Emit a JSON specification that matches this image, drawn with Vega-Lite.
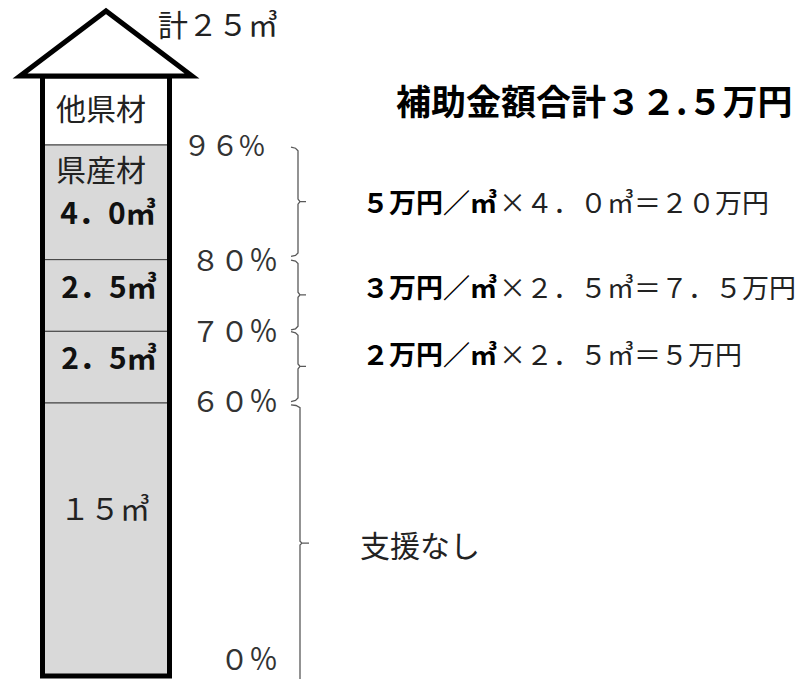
{
  "$schema": "https://vega.github.io/schema/vega-lite/v6.json",
  "width": 805,
  "height": 679,
  "padding": 0,
  "autosize": {"type": "none"},
  "background": "white",
  "config": {"view": {"stroke": null}, "text": {"font": "Noto Sans CJK JP"}},
  "datasets": {
    "seg": [
      {"kind": "他県材", "lo": 96, "hi": 100},
      {"kind": "県産材", "lo": 80, "hi": 96},
      {"kind": "県産材", "lo": 70, "hi": 80},
      {"kind": "県産材", "lo": 60, "hi": 70},
      {"kind": "県産材", "lo": 0, "hi": 60}
    ],
    "arrow": [
      {"x": 20, "p": 100},
      {"x": 106, "p": 110},
      {"x": 192, "p": 100}
    ],
    "brace": [
      {"b": 1, "i": 0, "x": 291, "p": 95.7},
      {"b": 1, "i": 1, "x": 295.5, "p": 95.55},
      {"b": 1, "i": 2, "x": 298, "p": 95.2},
      {"b": 1, "i": 3, "x": 298, "p": 88.45},
      {"b": 1, "i": 4, "x": 300, "p": 88.1},
      {"b": 1, "i": 5, "x": 306, "p": 88.1},
      {"b": 1, "i": 6, "x": 300, "p": 88.1},
      {"b": 1, "i": 7, "x": 298, "p": 87.75},
      {"b": 1, "i": 8, "x": 298, "p": 80.95},
      {"b": 1, "i": 9, "x": 295.5, "p": 80.6},
      {"b": 1, "i": 10, "x": 291, "p": 80.45},
      {"b": 2, "i": 0, "x": 291, "p": 79.95},
      {"b": 2, "i": 1, "x": 295.5, "p": 79.8},
      {"b": 2, "i": 2, "x": 298, "p": 79.45},
      {"b": 2, "i": 3, "x": 298, "p": 75.45},
      {"b": 2, "i": 4, "x": 300, "p": 75.1},
      {"b": 2, "i": 5, "x": 306, "p": 75.1},
      {"b": 2, "i": 6, "x": 300, "p": 75.1},
      {"b": 2, "i": 7, "x": 298, "p": 74.75},
      {"b": 2, "i": 8, "x": 298, "p": 70.7},
      {"b": 2, "i": 9, "x": 295.5, "p": 70.35},
      {"b": 2, "i": 10, "x": 291, "p": 70.2},
      {"b": 3, "i": 0, "x": 291, "p": 69.95},
      {"b": 3, "i": 1, "x": 295.5, "p": 69.8},
      {"b": 3, "i": 2, "x": 298, "p": 69.45},
      {"b": 3, "i": 3, "x": 298, "p": 65.45},
      {"b": 3, "i": 4, "x": 300, "p": 65.1},
      {"b": 3, "i": 5, "x": 306, "p": 65.1},
      {"b": 3, "i": 6, "x": 300, "p": 65.1},
      {"b": 3, "i": 7, "x": 298, "p": 64.75},
      {"b": 3, "i": 8, "x": 298, "p": 60.7},
      {"b": 3, "i": 9, "x": 295.5, "p": 60.35},
      {"b": 3, "i": 10, "x": 291, "p": 60.2},
      {"b": 4, "i": 0, "x": 291, "p": 59.6},
      {"b": 4, "i": 1, "x": 296, "p": 59.45},
      {"b": 4, "i": 2, "x": 300, "p": 59.0},
      {"b": 4, "i": 3, "x": 300, "p": 29.6},
      {"b": 4, "i": 4, "x": 302, "p": 29.2},
      {"b": 4, "i": 5, "x": 309, "p": 29.2},
      {"b": 4, "i": 6, "x": 302, "p": 29.2},
      {"b": 4, "i": 7, "x": 300, "p": 28.8},
      {"b": 4, "i": 8, "x": 300, "p": -1}
    ],
    "txt": [
      {"g": "colNormal", "t": "他県材", "x": 101, "p": 97.95},
      {"g": "colNormal", "t": "県産材", "x": 101, "p": 92.2},
      {"g": "colNormal", "t": "１５㎥", "x": 105, "p": 36.2},
      {"g": "colBold", "t": "4．0㎥", "x": 108, "p": 86.2},
      {"g": "colBold", "t": "2．5㎥", "x": 109, "p": 75.85},
      {"g": "colBold", "t": "2．5㎥", "x": 109, "p": 66.0},
      {"g": "pct96", "t": "９６%", "x": 183, "p": 95.65},
      {"g": "pct", "t": "８０％", "x": 191, "p": 79.7},
      {"g": "pct", "t": "７０％", "x": 191, "p": 69.8},
      {"g": "pct", "t": "６０％", "x": 191, "p": 60.0},
      {"g": "pct", "t": "０％", "x": 220, "p": 3.3},
      {"g": "note", "t": "計２５㎥", "x": 158, "p": 107.6},
      {"g": "note", "t": "支援なし", "x": 360, "p": 28.1},
      {"g": "title", "t": "補助金額合計３２.５万円", "x": 396, "p": 98.4},
      {"g": "rate", "t": "５万円／㎥", "x": 497, "p": 87.6},
      {"g": "rate", "t": "３万円／㎥", "x": 497, "p": 75.8},
      {"g": "rate", "t": "２万円／㎥", "x": 497, "p": 66.4},
      {"g": "calc", "t": "×４．０㎥＝２０万円", "x": 499, "p": 87.6},
      {"g": "calc", "t": "×２．５㎥＝７．５万円", "x": 499, "p": 75.8},
      {"g": "calc", "t": "×２．５㎥＝５万円", "x": 499, "p": 66.4}
    ]
  },
  "layer": [
    {
      "data": {"name": "seg"},
      "mark": {"type": "rect", "stroke": "#404040", "strokeWidth": 1},
      "encoding": {
        "x": {"datum": 44, "type": "quantitative", "scale": {"domain": [0, 805], "range": [0, 805], "nice": false, "zero": false}, "axis": null},
        "x2": {"datum": 168},
        "y": {"field": "lo", "type": "quantitative", "scale": {"domain": [0, 60, 96, 100, 110], "range": [676, 403, 145, 76, 11], "nice": false, "zero": false}, "axis": null},
        "y2": {"field": "hi"},
        "color": {"field": "kind", "type": "nominal", "scale": {"domain": ["県産材", "他県材"], "range": ["#d9d9d9", "#ffffff"]}, "legend": null}
      }
    },
    {
      "data": {"values": [{}]},
      "mark": {"type": "rect", "fill": "white", "fillOpacity": 0, "stroke": "black", "strokeWidth": 5},
      "encoding": {
        "x": {"datum": 42.5, "type": "quantitative", "scale": {"domain": [0, 805], "range": [0, 805], "nice": false, "zero": false}, "axis": null},
        "x2": {"datum": 169.5},
        "y": {"datum": 0, "type": "quantitative", "scale": {"domain": [0, 60, 96, 100, 110], "range": [676, 403, 145, 76, 11], "nice": false, "zero": false}, "axis": null},
        "y2": {"datum": 100}
      }
    },
    {
      "data": {"name": "arrow"},
      "mark": {"type": "area", "fill": "white", "stroke": "black", "strokeWidth": 5, "strokeJoin": "miter"},
      "encoding": {
        "x": {"field": "x", "type": "quantitative", "scale": {"domain": [0, 805], "range": [0, 805], "nice": false, "zero": false}, "axis": null},
        "y": {"field": "p", "type": "quantitative", "scale": {"domain": [0, 60, 96, 100, 110], "range": [676, 403, 145, 76, 11], "nice": false, "zero": false}, "axis": null},
        "y2": {"datum": 100}
      }
    },
    {
      "data": {"name": "brace"},
      "mark": {"type": "line", "color": "#595959", "strokeWidth": 1.3},
      "encoding": {
        "x": {"field": "x", "type": "quantitative", "scale": {"domain": [0, 805], "range": [0, 805], "nice": false, "zero": false}, "axis": null},
        "y": {"field": "p", "type": "quantitative", "scale": {"domain": [0, 60, 96, 100, 110], "range": [676, 403, 145, 76, 11], "nice": false, "zero": false}, "axis": null},
        "detail": {"field": "b", "type": "nominal"},
        "order": {"field": "i", "type": "quantitative"}
      }
    },
    {
      "data": {"name": "txt"},
      "transform": [{"filter": {"field": "g", "equal": "colNormal"}}],
      "mark": {"type": "text", "fontSize": 30, "align": "center", "baseline": "middle", "color": "#222222"},
      "encoding": {
        "x": {"field": "x", "type": "quantitative", "scale": {"domain": [0, 805], "range": [0, 805], "nice": false, "zero": false}, "axis": null},
        "y": {"field": "p", "type": "quantitative", "scale": {"domain": [0, 60, 96, 100, 110], "range": [676, 403, 145, 76, 11], "nice": false, "zero": false}, "axis": null},
        "text": {"field": "t"}
      }
    },
    {
      "data": {"name": "txt"},
      "transform": [{"filter": {"field": "g", "equal": "colBold"}}],
      "mark": {"type": "text", "fontSize": 30, "fontWeight": "bold", "align": "center", "baseline": "middle", "color": "#111111"},
      "encoding": {
        "x": {"field": "x", "type": "quantitative", "scale": {"domain": [0, 805], "range": [0, 805], "nice": false, "zero": false}, "axis": null},
        "y": {"field": "p", "type": "quantitative", "scale": {"domain": [0, 60, 96, 100, 110], "range": [676, 403, 145, 76, 11], "nice": false, "zero": false}, "axis": null},
        "text": {"field": "t"}
      }
    },
    {
      "data": {"name": "txt"},
      "transform": [{"filter": {"field": "g", "equal": "pct"}}],
      "mark": {"type": "text", "fontSize": 29, "align": "left", "baseline": "middle", "color": "#333333"},
      "encoding": {
        "x": {"field": "x", "type": "quantitative", "scale": {"domain": [0, 805], "range": [0, 805], "nice": false, "zero": false}, "axis": null},
        "y": {"field": "p", "type": "quantitative", "scale": {"domain": [0, 60, 96, 100, 110], "range": [676, 403, 145, 76, 11], "nice": false, "zero": false}, "axis": null},
        "text": {"field": "t"}
      }
    },
    {
      "data": {"name": "txt"},
      "transform": [{"filter": {"field": "g", "equal": "pct96"}}],
      "mark": {"type": "text", "fontSize": 28, "align": "left", "baseline": "middle", "color": "#333333"},
      "encoding": {
        "x": {"field": "x", "type": "quantitative", "scale": {"domain": [0, 805], "range": [0, 805], "nice": false, "zero": false}, "axis": null},
        "y": {"field": "p", "type": "quantitative", "scale": {"domain": [0, 60, 96, 100, 110], "range": [676, 403, 145, 76, 11], "nice": false, "zero": false}, "axis": null},
        "text": {"field": "t"}
      }
    },
    {
      "data": {"name": "txt"},
      "transform": [{"filter": {"field": "g", "equal": "note"}}],
      "mark": {"type": "text", "fontSize": 30, "align": "left", "baseline": "middle", "color": "#222222"},
      "encoding": {
        "x": {"field": "x", "type": "quantitative", "scale": {"domain": [0, 805], "range": [0, 805], "nice": false, "zero": false}, "axis": null},
        "y": {"field": "p", "type": "quantitative", "scale": {"domain": [0, 60, 96, 100, 110], "range": [676, 403, 145, 76, 11], "nice": false, "zero": false}, "axis": null},
        "text": {"field": "t"}
      }
    },
    {
      "data": {"name": "txt"},
      "transform": [{"filter": {"field": "g", "equal": "title"}}],
      "mark": {"type": "text", "fontSize": 35, "fontWeight": "bold", "align": "left", "baseline": "middle", "color": "#000000"},
      "encoding": {
        "x": {"field": "x", "type": "quantitative", "scale": {"domain": [0, 805], "range": [0, 805], "nice": false, "zero": false}, "axis": null},
        "y": {"field": "p", "type": "quantitative", "scale": {"domain": [0, 60, 96, 100, 110], "range": [676, 403, 145, 76, 11], "nice": false, "zero": false}, "axis": null},
        "text": {"field": "t"}
      }
    },
    {
      "data": {"name": "txt"},
      "transform": [{"filter": {"field": "g", "equal": "rate"}}],
      "mark": {"type": "text", "fontSize": 27, "fontWeight": "bold", "align": "right", "baseline": "middle", "color": "#000000"},
      "encoding": {
        "x": {"field": "x", "type": "quantitative", "scale": {"domain": [0, 805], "range": [0, 805], "nice": false, "zero": false}, "axis": null},
        "y": {"field": "p", "type": "quantitative", "scale": {"domain": [0, 60, 96, 100, 110], "range": [676, 403, 145, 76, 11], "nice": false, "zero": false}, "axis": null},
        "text": {"field": "t"}
      }
    },
    {
      "data": {"name": "txt"},
      "transform": [{"filter": {"field": "g", "equal": "calc"}}],
      "mark": {"type": "text", "fontSize": 27, "align": "left", "baseline": "middle", "color": "#222222"},
      "encoding": {
        "x": {"field": "x", "type": "quantitative", "scale": {"domain": [0, 805], "range": [0, 805], "nice": false, "zero": false}, "axis": null},
        "y": {"field": "p", "type": "quantitative", "scale": {"domain": [0, 60, 96, 100, 110], "range": [676, 403, 145, 76, 11], "nice": false, "zero": false}, "axis": null},
        "text": {"field": "t"}
      }
    }
  ]
}
